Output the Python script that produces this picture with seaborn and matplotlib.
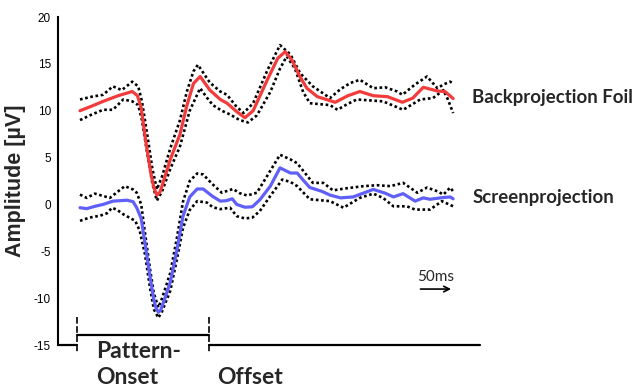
import numpy as np
import pandas as pd
import matplotlib
matplotlib.use("Agg")
import matplotlib.pyplot as plt
import seaborn as sns

# time (ms after start of epoch) and amplitude (uV)
red_t = [0, 16, 31, 51, 70, 77, 82, 88, 95, 99, 103, 107, 110, 121, 134, 143, 152, 161, 174, 188, 197, 210,
         221, 232, 251, 265, 275, 284, 295, 304, 318, 342, 359, 375, 393, 412, 432, 446, 460, 479, 489, 500]
red_mean = [10.0, 10.5, 11.0, 11.6, 12.05, 11.6, 10.3, 6.8, 3.3, 1.8, 1.0, 1.3, 2.0, 4.8, 7.5, 10.5, 12.9, 13.65, 12.2, 11.2, 10.8, 9.9,
            9.25, 10.0, 13.3, 15.6, 16.3, 15.4, 13.6, 12.4, 11.5, 10.9, 11.6, 12.05, 11.6, 11.5, 10.9, 11.35, 12.5, 12.1, 12.05, 11.3]

red_up_t = [0, 16, 31, 44, 56, 70, 78, 83, 90, 97, 103, 110, 121, 134, 143, 152, 158, 174, 188, 197, 209,
            219, 232, 251, 268, 282, 295, 312, 335, 349, 362, 375, 393, 409, 425, 432, 449, 465, 479, 487, 496, 500]
red_up = [11.2, 11.5, 11.7, 12.6, 12.2, 13.1, 12.6, 11.0, 7.5, 3.8, 1.6, 3.0, 6.0, 9.0, 12.0, 14.2, 14.9, 13.0, 12.05, 11.7, 10.5,
          9.75, 10.8, 14.3, 17.0, 16.0, 14.0, 12.6, 11.35, 12.3, 12.95, 13.3, 12.4, 12.5, 12.05, 11.7, 12.8, 13.65, 12.4, 12.8, 13.1, 12.9]

red_lo_t = [0, 16, 31, 44, 58, 70, 78, 83, 90, 97, 103, 110, 121, 134, 147, 161, 170, 178, 190, 201,
            214, 225, 237, 255, 268, 277, 288, 299, 308, 335, 345, 358, 371, 406, 433, 456, 473, 487, 493, 500]
red_lo = [9.0, 9.6, 10.1, 10.1, 11.2, 11.0, 10.6, 9.0, 5.5, 2.2, 0.4, 1.4, 3.8, 6.2, 10.0, 12.4, 11.4, 10.6, 10.0, 9.6,
          9.0, 8.75, 9.5, 12.0, 14.5, 15.8, 14.5, 12.0, 10.8, 10.6, 10.1, 10.7, 11.2, 11.0, 10.1, 11.2, 11.35, 12.2, 11.2, 9.75]

blue_t = [0, 9, 20, 31, 44, 63, 71, 76, 82, 87, 94, 99, 102, 105, 108, 113, 121, 130, 138, 147, 157, 165, 177, 188, 196, 204,
          210, 221, 231, 241, 255, 268, 282, 291, 299, 308, 324, 335, 349, 366, 393, 409, 420, 433, 449, 460, 469, 483, 496, 500]
blue_mean = [-0.35, -0.45, -0.2, 0.0, 0.35, 0.45, 0.3, -0.35, -1.5, -4.1, -7.8, -10.2, -11.1, -11.5, -11.3, -10.2, -8.3, -4.8, -1.25, 0.8,
             1.65, 1.65, 0.9, 0.35, 0.4, 0.6, 0.0, -0.3, -0.25, 0.5, 1.95, 3.9, 3.35, 3.35, 2.6, 1.8, 1.4, 1.0, 0.7, 0.8,
             1.6, 1.2, 0.8, 1.15, 0.35, 0.7, 0.55, 0.7, 0.8, 0.6]

blue_up_t = [0, 9, 20, 40, 60, 71, 76, 82, 87, 94, 99, 105, 110, 121, 130, 138, 147, 157, 165, 177, 190, 205, 214,
             224, 237, 252, 268, 282, 291, 302, 312, 326, 339, 355, 380, 398, 416, 433, 452, 465, 479, 487, 496, 500]
blue_up = [1.05, 0.7, 1.15, 0.7, 1.95, 1.6, 1.25, 0.0, -3.0, -7.0, -9.5, -11.0, -10.0, -7.3, -3.5, 0.3, 2.5, 3.3, 3.2,
           2.2, 1.25, 1.65, 1.2, 0.95, 1.25, 3.2, 5.3, 4.8, 4.4, 3.3, 2.3, 2.3, 1.5, 1.7, 1.95, 2.05, 1.95, 2.3, 1.25,
           1.8, 1.4, 1.05, 1.8, 1.4]

blue_lo_t = [0, 13, 27, 36, 43, 50, 58, 74, 80, 87, 94, 99, 105, 110, 121, 130, 138, 147, 157, 170, 178, 188, 201,
             210, 221, 231, 241, 255, 271, 282, 291, 308, 335, 353, 375, 393, 406, 420, 438, 449, 469, 485, 500]
blue_lo = [-1.75, -1.4, -1.2, -0.95, -0.35, -0.6, -1.05, -1.75, -2.8, -5.3, -9.0, -11.2, -12.1, -11.4, -9.2, -5.8, -2.5,
           -0.6, 0.35, 0.2, -0.3, -0.5, -0.35, -1.25, -1.5, -1.4, -0.7, 0.9, 2.65, 2.4, 1.95, 0.55, 0.35, -0.35, 0.7,
           1.15, 0.7, -0.2, -0.2, -0.55, -0.55, 0.35, -0.2]

y_ticks = [-15, -10, -5, 0, 5, 10, 15, 20]
onset_end = 173   # end of the pattern-onset bracket (ms)
scale_ms = 50

sns.set_style("white")
plt.rcParams["font.family"] = ["Liberation Sans", "DejaVu Sans"]

W, H = 633, 390
fig = plt.figure(figsize=(W / 100, H / 100), dpi=100)
ax = fig.add_axes([58 / W, 45 / H, 422 / W, 328 / H])

dot = dict(color="black", lw=1.9, linestyle=(0, (1, 1)), estimator=None, sort=False)
for t, v in [(red_up_t, red_up), (red_lo_t, red_lo), (blue_up_t, blue_up), (blue_lo_t, blue_lo)]:
    sns.lineplot(x=t, y=v, ax=ax, **dot)
sns.lineplot(x=red_t, y=red_mean, ax=ax, color="#f23b3b", lw=2.3, estimator=None, sort=False)
sns.lineplot(x=blue_t, y=blue_mean, ax=ax, color="#6060f8", lw=2.3, estimator=None, sort=False)

ax.set_xlim(-29.5, 536)
ax.set_ylim(-15, 20)
ax.set_yticks(y_ticks)
ax.set_yticklabels([str(v) for v in y_ticks], fontsize=8.5)
ax.set_xticks([])
for s in ["top", "right", "bottom"]:
    ax.spines[s].set_visible(False)
ax.spines["left"].set_linewidth(1.5)
ax.spines["left"].set_color("black")
ax.tick_params(axis="y", direction="out", length=4, width=1.2, pad=1, colors="black")
ax.set_ylabel("Amplitude [µV]", fontsize=15.5, fontweight="bold", labelpad=6)

# bottom line broken by the pattern-onset bracket
ln = dict(color="black", lw=1.6, clip_on=False)
ax.plot([-29.5, -4], [-15, -15], **ln)
ax.plot([onset_end, 536], [-15, -15], **ln)
ax.plot([-4, onset_end], [-13.94, -13.94], **ln)
for xx in [-4, onset_end]:
    ax.plot([xx, xx], [-12.0, -15.9], color="black", lw=1.2, linestyle=(0, (4, 1.5)), clip_on=False)

# 50 ms scale arrow
ax.annotate("", xy=(501, -9.03), xytext=(501 - scale_ms * 0.97, -9.03),
            arrowprops=dict(arrowstyle="->", lw=1.2, color="black"))
ax.text(477, -7.75, f"{scale_ms}ms", ha="center", va="center", fontsize=11, family="Lato")

lab = dict(fontsize=13.4, fontweight="bold", family="Lato", va="center", ha="left")
fig.text(472 / W, 1 - 97 / H, "Backprojection Foil", **lab)
fig.text(473 / W, 1 - 197 / H, "Screenprojection", **lab)
big = dict(lab, fontsize=16.5)
fig.text(96 / W, 1 - 351 / H, "Pattern-", **big)
fig.text(96 / W, 1 - 377 / H, "Onset", **big)
fig.text(217 / W, 1 - 377 / H, "Offset", **big)

fig.savefig("out.png", dpi=100)
